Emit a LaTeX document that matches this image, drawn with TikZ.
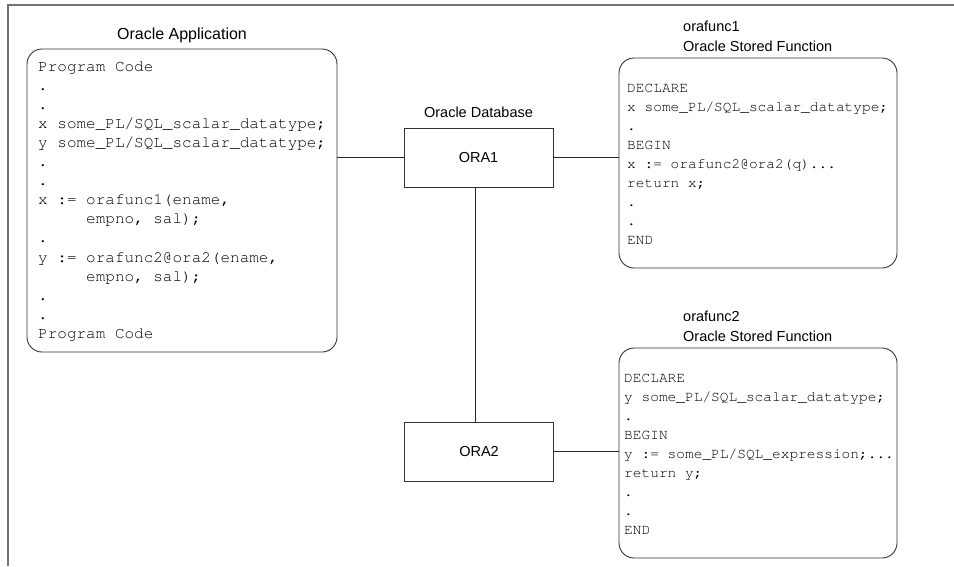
\documentclass[tikz,border=0pt]{standalone}
\usepackage[T1]{fontenc}
\usepackage{fontspec}
\setmainfont{Liberation Sans}
\newcommand\codefont{\fontencoding{T1}\fontfamily{pcr}\selectfont}
\begin{document}
\begin{tikzpicture}[x=1pt,y=-1pt,
  frameline/.style={draw=black!55,line width=1.3pt},
  conn/.style={draw=black!85,line width=0.9pt},
  dbbox/.style={draw=black!80,line width=0.9pt,rectangle,minimum width=149pt,minimum height=59pt,inner sep=0pt,font=\fontsize{14.5}{17}\selectfont},
  codebox/.style={draw=black!80,line width=0.9pt,rectangle,rounded corners=15pt,inner sep=0pt},
  lbl/.style={inner sep=0pt,font=\fontsize{14.5}{17}\selectfont},
  bigcode/.style={inner sep=0pt,anchor=base west,text=black,font=\codefont\fontsize{16}{19.1}\selectfont},
  smallcode/.style={inner sep=0pt,anchor=base west,text=black,font=\codefont\fontsize{14.5}{19.1}\selectfont}]
\useasboundingbox (0,0) rectangle (954,566);
\draw[frameline] (8,566) -- (8,5) -- (954,5);

% boxes
\node[codebox,minimum width=310pt,minimum height=303pt] (app) at (182,200.5) {};
\node[codebox,minimum width=278pt,minimum height=210pt] (f1) at (758,163) {};
\node[codebox,minimum width=278pt,minimum height=210pt] (f2) at (758,453) {};
\node[dbbox] (ORA1) at (478.5,157.5) {ORA1};
\node[dbbox] (ORA2) at (479,451.5) {ORA2};

% labels
\node[lbl,anchor=base,font=\fontsize{16}{18}\selectfont] (lapp) at (182,39) {Oracle Application};
\node[lbl,anchor=base] (ldb) at (478.5,117) {Oracle Database};
\node[lbl,anchor=base west] (lf1a) at (683,31) {orafunc1};
\node[lbl,anchor=base west] (lf1b) at (683,51) {Oracle Stored Function};
\node[lbl,anchor=base west] (lf2a) at (683,321) {orafunc2};
\node[lbl,anchor=base west] (lf2b) at (683,341) {Oracle Stored Function};

% code
\node[bigcode] (capp) at (38,71) {\begin{tabular}[t]{@{}l@{}}
Program Code\\
.\\
.\\
x some\_PL/SQL\_scalar\_datatype;\\
y some\_PL/SQL\_scalar\_datatype;\\
.\\
.\\
x := orafunc1(ename,\\
\phantom{xxxxx}empno, sal);\\
.\\
y := orafunc2@ora2(ename,\\
\phantom{xxxxx}empno, sal);\\
.\\
.\\
Program Code
\end{tabular}};

\node[smallcode] (cf1) at (627,92) {\begin{tabular}[t]{@{}l@{}}
DECLARE\\
x some\_PL/SQL\_scalar\_datatype;\\
.\\
BEGIN\\
x := orafunc2@ora2(q)...\\
return x;\\
.\\
.\\
END
\end{tabular}};

\node[smallcode] (cf2) at (624,382) {\begin{tabular}[t]{@{}l@{}}
DECLARE\\
y some\_PL/SQL\_scalar\_datatype;\\
.\\
BEGIN\\
y := some\_PL/SQL\_expression;...\\
return y;\\
.\\
.\\
END
\end{tabular}};

% connectors
\coordinate (vx) at (475,0);
\draw[conn] (ORA1.west) -- (ORA1.west -| app.east);
\draw[conn] (ORA1.east) -- (ORA1.east -| f1.west);
\draw[conn] (ORA2.east) -- (ORA2.east -| f2.west);
\draw[conn] (ORA1.south -| vx) -- (ORA2.north -| vx);
\end{tikzpicture}
\end{document}
